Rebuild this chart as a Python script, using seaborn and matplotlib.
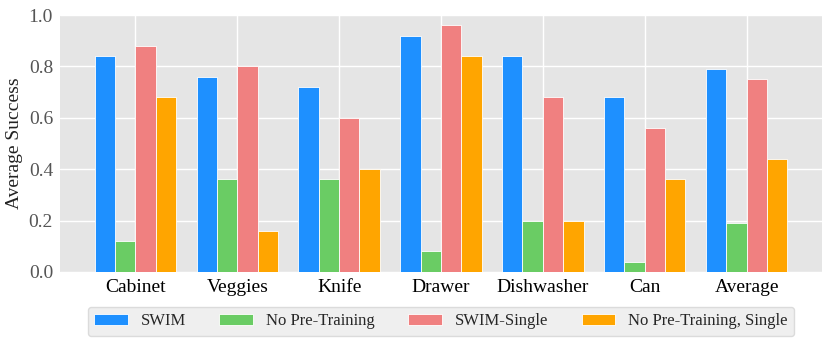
import pandas as pd
import numpy as np
import matplotlib
matplotlib.use("Agg")
import matplotlib.pyplot as plt
import seaborn as sns

# Task names and success rates
tasks = ['Cabinet', 'Veggies', 'Knife', 'Drawer', 'Dishwasher', 'Can', 'Average']
swim = [0.84, 0.76, 0.72, 0.92, 0.84, 0.68, 0.79]
no_pretrain = [0.12, 0.36, 0.36, 0.08, 0.20, 0.04, 0.19]
swim_single = [0.88, 0.80, 0.60, 0.96, 0.68, 0.56, 0.75]
no_pretrain_single = [0.68, 0.16, 0.40, 0.84, 0.20, 0.36, 0.44]

methods = ['SWIM', 'No Pre-Training', 'SWIM-Single', 'No Pre-Training, Single']
colors = ['#1E90FF', '#6ACC64', '#F08080', '#FFA500']

# Long format table for seaborn
rows = []
for name, vals in zip(methods, [swim, no_pretrain, swim_single, no_pretrain_single]):
    for t, v in zip(tasks, vals):
        rows.append({'Task': t, 'Method': name, 'Success': v})
data = pd.DataFrame(rows)

sns.set_style('darkgrid', {'axes.facecolor': '#E5E5E5', 'grid.color': 'white'})
plt.rcParams['font.family'] = ['Liberation Serif', 'DejaVu Serif']

fig = plt.figure(figsize=(8.3, 3.42), dpi=100)
ax = fig.add_axes([0.0723, 0.205, 0.918, 0.751])

sns.barplot(data=data, x='Task', y='Success', hue='Method', hue_order=methods,
            palette=colors, width=0.8, edgecolor='white', linewidth=0.6,
            saturation=1, ax=ax)

ax.set_xlim(-0.74, 6.74)
ax.set_ylim(0, 1.0)
ax.set_yticks(np.arange(0, 1.01, 0.2))
ax.set_yticklabels([f'{v:.1f}' for v in np.arange(0, 1.01, 0.2)])
ax.set_xlabel('')
ax.set_ylabel('Average Success', fontsize=14, color='#222222')
ax.xaxis.grid(True, color='white', linewidth=1.0)
ax.yaxis.grid(True, color='white', linewidth=1.0)
ax.set_axisbelow(True)
ax.tick_params(axis='x', labelsize=14, colors='black', length=0, pad=5)
ax.tick_params(axis='y', labelsize=14, labelcolor='#555555', length=0, pad=5)
for s in ax.spines.values():
    s.set_visible(False)

leg = ax.legend(loc='upper center', bbox_to_anchor=(0.5, -0.135), ncol=4,
                fontsize=12, frameon=True, handlelength=2.0, handleheight=0.7,
                columnspacing=2.0, handletextpad=0.8, borderpad=0.4,
                borderaxespad=0.0)
leg.get_frame().set_facecolor('#EBEBEB')
leg.get_frame().set_edgecolor('#D5D5D5')

fig.savefig('out.png', dpi=100)
